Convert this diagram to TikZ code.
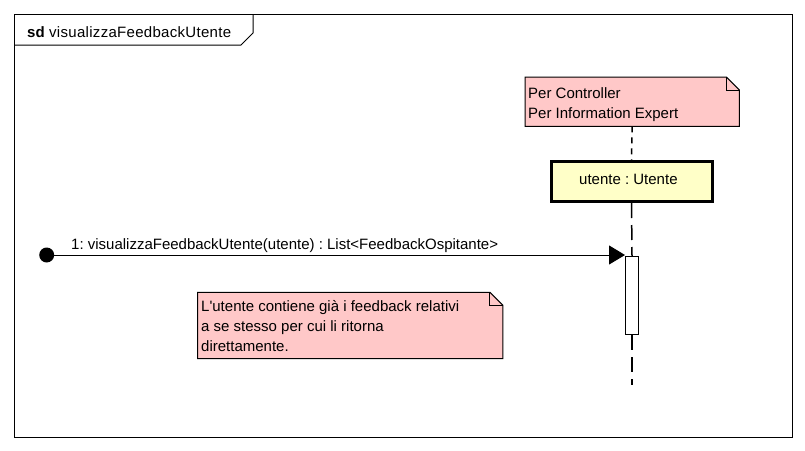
\documentclass[tikz,border=0pt]{standalone}
\usepackage{fontspec}
\setmainfont{Liberation Sans}
\usetikzlibrary{arrows.meta,calc}
\frenchspacing
\definecolor{notepink}{HTML}{FFC8C8}
\definecolor{objyellow}{HTML}{FFFFC8}
\newcommand\dogear[1]{%
  \filldraw[notefill] (#1.north west) -- ($(#1.north east)+(-13,0)$) -- ($(#1.north east)+(0,13)$) -- (#1.south east) -- (#1.south west) -- cycle;
  \draw[line width=1pt] ($(#1.north east)+(-13,0)$) -- ($(#1.north east)+(-13,13)$) -- ($(#1.north east)+(0,13)$);}
\tikzset{
  notefill/.style={fill=notepink, draw=black, line width=1pt},
  notebox/.style={inner sep=0pt, anchor=north west},
  txt/.style={inner sep=0pt, anchor=base west, align=left},
  objbox/.style={draw, line width=3pt, fill=objyellow, inner sep=0pt},
  actbox/.style={draw, line width=1pt, fill=white, inner sep=0pt, minimum width=13pt, minimum height=78pt},
  lifeline/.style={line width=1.5pt, dash pattern=on 15pt off 7pt},
  anchorline/.style={line width=1.5pt, dash pattern=on 6pt off 5pt},
  msg/.style={line width=1pt, -{Triangle[length=16pt,width=19pt]}},
}
\begin{document}
\begin{tikzpicture}[x=1pt,y=-1pt,font=\fontsize{15}{20}\selectfont]
\useasboundingbox (0,0) rectangle (805,450);
\fill[white] (0,0) rectangle (805,450);
% frame
\node[draw, line width=1pt, inner sep=0pt, anchor=north west, minimum width=778pt, minimum height=423pt] (frame) at (14,14) {};
\draw[line width=1pt] (14,45) -- (241,45) -- (253,33) -- (253,14);
\node[txt] (sd) at (27,37) {\textbf{sd}};
\node[txt] (title) at (49,37) {\addfontfeature{LetterSpace=2}visualizzaFeedbackUtente};
% note 1
\node[notebox, minimum width=214pt, minimum height=49pt] (n1) at (525,77) {};
\dogear{n1}
\node[txt] (n1txt) at (528,118) {Per Controller\\Per Information Expert};
% object
\node[objbox, minimum width=161pt, minimum height=40pt] (obj) at (631.5,181.5) {};
\node[txt] (objlbl) at (579,184) {utente : Utente};
% activation
\node[actbox, anchor=north west] (act) at (625,256) {};
\coordinate (lifeend) at (632,385);
% lifeline pieces
\draw[anchorline] (n1.south) -- (obj.north);
\draw[lifeline] (obj.south) -- (act.north);
\draw[lifeline] (act.south) -- (lifeend);
% message
\node[circle, fill=black, minimum size=15pt, inner sep=0pt] (start) at (46.7,255) {};
\draw[msg] (start) -- (start -| act.west);
\node[txt] (msglbl) at (71,249) {1: visualizzaFeedbackUtente(utente) : List<FeedbackOspitante>};
% note 2
\node[notebox, minimum width=305pt, minimum height=66pt] (n2) at (197.5,292.3) {};
\dogear{n2}
\node[txt] (n2txt) at (201,351) {L\textquotesingle utente contiene già i feedback relativi\\a se stesso per cui li ritorna\\direttamente.};
\end{tikzpicture}
\end{document}
